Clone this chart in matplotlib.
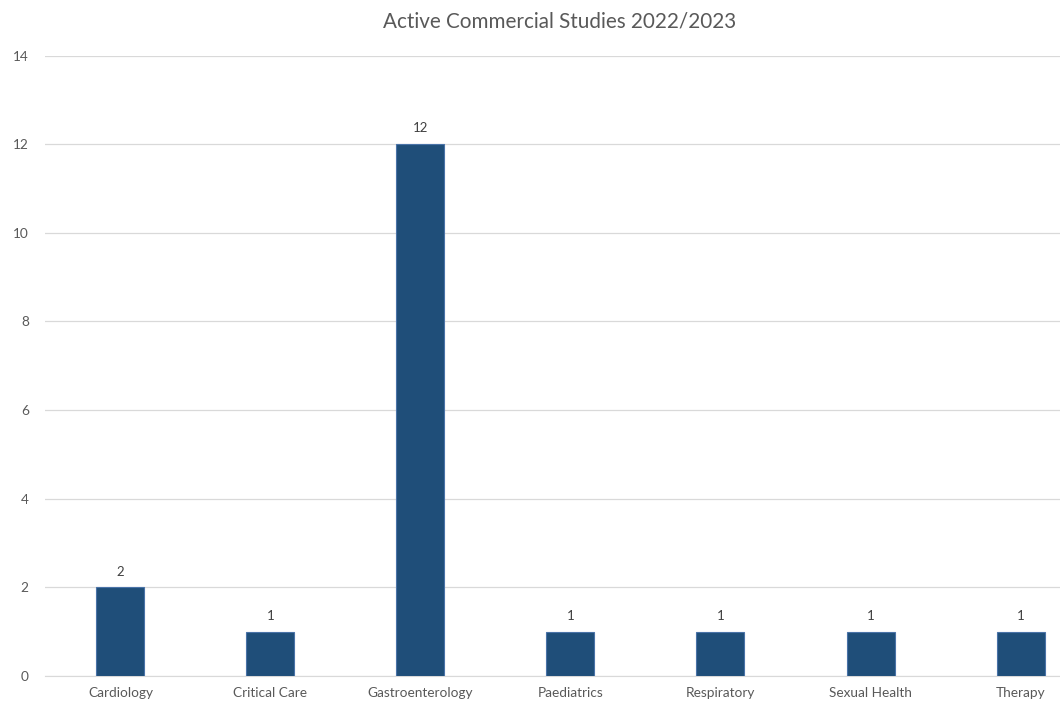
import matplotlib.pyplot as plt

categories = ['Cardiology', 'Critical Care', 'Gastroenterology', 'Paediatrics',
              'Respiratory', 'Sexual Health', 'Therapy']
studies = [2, 1, 12, 1, 1, 1, 1]
y_ticks = [0, 2, 4, 6, 8, 10, 12, 14]

plt.rcParams['font.family'] = ['Lato', 'DejaVu Sans']
text_col = '#595959'
grid_col = '#d9d9d9'

fig = plt.figure(figsize=(10.6, 7.09), dpi=100)
# plot area runs past the right edge of the figure
ax = fig.add_axes([0.0429, 0.0465, 0.9906, 0.8752])

x = range(len(categories))
bars = ax.bar(x, studies, width=0.32, color='#1f4e79', edgecolor='#4a73a8',
              linewidth=0.8, zorder=3)
for b, v in zip(bars, studies):
    ax.annotate(str(v), (b.get_x() + b.get_width() / 2, v),
                xytext=(0, 7), textcoords='offset points',
                ha='center', va='bottom', fontsize=9.5, color='#404040')

ax.set_xlim(-0.5, len(categories) - 0.5)
ax.set_ylim(0, 14)
ax.set_yticks(y_ticks)
ax.set_xticks(list(x))
ax.set_xticklabels(categories)
ax.tick_params(axis='both', length=0, labelsize=9.8, colors=text_col)
ax.tick_params(axis='y', pad=12)
ax.tick_params(axis='x', pad=8)
ax.grid(axis='y', color=grid_col, linewidth=0.9, zorder=0)
for s in ['top', 'right', 'left']:
    ax.spines[s].set_visible(False)
ax.spines['bottom'].set_color(grid_col)

fig.text(0.528, 0.97, 'Active Commercial Studies 2022/2023', ha='center',
         va='center', fontsize=14.9, color=text_col)

fig.savefig('out.png', dpi=100)
